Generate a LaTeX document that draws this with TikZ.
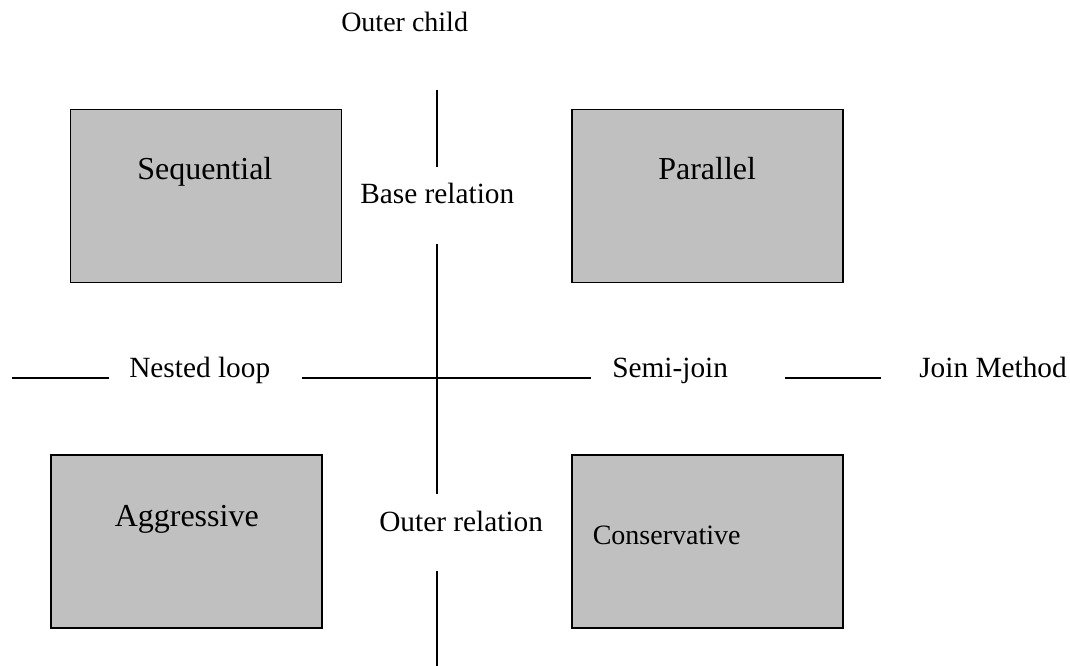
\documentclass[tikz,border=0pt]{standalone}
\usepackage{fontspec}
\setmainfont{Liberation Serif}
\begin{document}
\begin{tikzpicture}[x=0.75pt,y=-0.75pt,
  box/.style={draw=black,fill={rgb,255:red,192;green,192;blue,192},line width=1.2pt,inner sep=0pt,
    minimum width=203pt,minimum height=130pt},
  lbl/.style={anchor=base west,inner sep=0pt,font=\fontsize{22pt}{26pt}\selectfont},
  big/.style={lbl,font=\fontsize{24pt}{28pt}\selectfont},
  small/.style={lbl,font=\fontsize{21pt}{25pt}\selectfont},
  rule/.style={line width=1.1pt}]
\useasboundingbox (0,0) rectangle (1070,666);
% boxes
\node[box] (seq) at (206,196) {};
\node[box] (par) at (707.5,196) {};
\node[box] (agg) at (186.5,541.5) {};
\node[box] (con) at (707.5,541.5) {};
% texts
\node[small] (outerchild) at (341,32) {Outer child};
\node[big] (seqt) at (137,180) {Sequential};
\node[big] (part) at (658,180) {Parallel};
\node[lbl] (base) at (360,204) {Base relation};
\node[lbl] (nested) at (129,377) {Nested loop};
\node[lbl] (semi) at (612,377) {Semi-join};
\node[lbl] (joinm) at (919,377) {Join Method};
\node[big] (aggt) at (114.5,526) {Aggressive};
\node[lbl] (outerrel) at (379,531) {Outer relation};
\node[small] (cont) at (592.5,544) {Conservative};
% line end points
\coordinate (v1a) at (437,90);
\coordinate (v1b) at (437,167);
\coordinate (v2a) at (437,244);
\coordinate (v2b) at (437,494);
\coordinate (v3a) at (437,571);
\coordinate (v3b) at (437,666);
\coordinate (h1a) at (12,378);
\coordinate (h1b) at (109,378);
\coordinate (h2a) at (302,378);
\coordinate (h2b) at (591,378);
\coordinate (h3a) at (785,378);
\coordinate (h3b) at (881,378);
\draw[rule] (v1a) -- (v1b);
\draw[rule] (v2a) -- (v2b);
\draw[rule] (v3a) -- (v3b);
\draw[rule] (h1a) -- (h1b);
\draw[rule] (h2a) -- (h2b);
\draw[rule] (h3a) -- (h3b);
\end{tikzpicture}
\end{document}
